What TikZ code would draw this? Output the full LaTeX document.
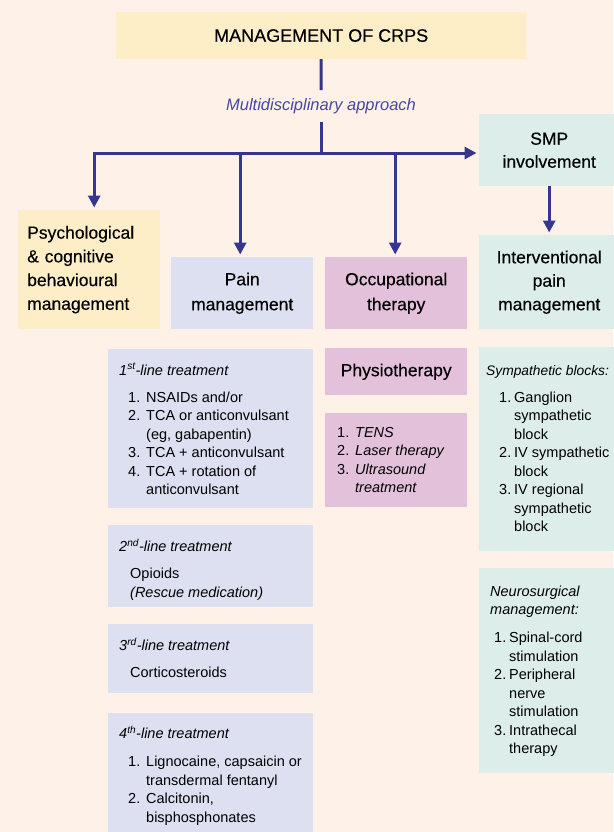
\documentclass[tikz,border=0pt]{standalone}
\usepackage{fontspec}
\setmainfont{Liberation Sans}
\newfontfamily\medf[FakeBold=0.35]{Liberation Sans}
\usetikzlibrary{arrows.meta,calc}
\definecolor{bgc}{HTML}{FEF1E7}
\definecolor{yel}{HTML}{FDEEC8}
\definecolor{lav}{HTML}{DCE0F1}
\definecolor{pnk}{HTML}{E4C1DB}
\definecolor{tea}{HTML}{DCEDEA}
\definecolor{arrc}{HTML}{36368C}
\definecolor{labc}{HTML}{48489C}
\newcommand{\fst}{\rule{0pt}{12pt}}
\newcommand{\nm}[1]{\makebox[18pt][l]{#1}}
\newcommand{\nr}[1]{\makebox[15pt][l]{#1}}
\begin{document}
\begin{tikzpicture}[x=1pt,y=-1pt,
  box/.style={rectangle,draw=none,inner sep=0pt,anchor=north west},
  head/.style={box,align=center,font=\fontsize{17.5}{24}\selectfont\medf},
  lst/.style={anchor=north west,inner sep=0pt,align=left,font=\fontsize{14.5}{18.5}\selectfont},
  conn/.style={draw=arrc,line width=3pt},
  arr/.style={conn,-{Triangle[length=12pt,width=12pt]},shorten >=2.5pt}]
\useasboundingbox (0,0) rectangle (613,832);
\fill[bgc] (0,0) rectangle (613,832);

% header boxes
\node[box,fill=yel,minimum width=410pt,minimum height=46.7pt,font=\fontsize{18}{22}\selectfont\medf] (title) at (116,12) {MANAGEMENT OF CRPS};
\node[box,fill=yel,minimum width=142pt,minimum height=119pt,inner xsep=9pt,text width=124pt,align=left,font=\fontsize{17.5}{23.7}\selectfont\medf] (psych) at (18,210) {Psychological\\\& cognitive\\behavioural\\management};
\node[head,fill=lav,minimum width=142pt,minimum height=72pt,font=\fontsize{17.5}{25}\selectfont\medf] (pain) at (171,257) {Pain\\management};
\node[head,fill=pnk,minimum width=142pt,minimum height=72pt,font=\fontsize{17.5}{25}\selectfont\medf] (occ) at (325,257) {Occupational\\therapy};
\node[head,fill=tea,minimum width=140pt,minimum height=72pt,font=\fontsize{17.5}{23}\selectfont\medf] (smp) at (479,114) {SMP\\involvement};
\node[head,fill=tea,minimum width=140pt,minimum height=94pt,font=\fontsize{17.5}{23.5}\selectfont\medf] (interv) at (479,235) {Interventional\\pain\\management};
\node[head,fill=pnk,minimum width=142pt,minimum height=47pt] (physio) at (325,348) {Physiotherapy};

% list boxes
\node[box,fill=lav,minimum width=205pt,minimum height=159pt] (b1) at (108,349) {};
\node[box,fill=lav,minimum width=205pt,minimum height=82pt] (b2) at (108,525) {};
\node[box,fill=lav,minimum width=205pt,minimum height=69pt] (b3) at (108,624) {};
\node[box,fill=lav,minimum width=205pt,minimum height=130pt] (b4) at (108,713) {};
\node[box,fill=pnk,minimum width=142pt,minimum height=94pt] (tens) at (325,413) {};
\node[box,fill=tea,minimum width=140pt,minimum height=204pt] (symp) at (479,347) {};
\node[box,fill=tea,minimum width=140pt,minimum height=205pt] (neuro) at (479,568) {};

% list texts
\node[lst] (t1) at (119,363) {\fst\textit{1\textsuperscript{st}-line treatment}\\[8.5pt]
\hspace*{9pt}\nm{1.}NSAIDs and/or\\
\hspace*{9pt}\nm{2.}TCA or anticonvulsant\\
\hspace*{27pt}(eg, gabapentin)\\
\hspace*{9pt}\nm{3.}TCA + anticonvulsant\\
\hspace*{9pt}\nm{4.}TCA + rotation of\\
\hspace*{27pt}anticonvulsant};
\node[lst] (t2) at (119,539) {\fst\textit{2\textsuperscript{nd}-line treatment}\\[8.5pt]
\hspace*{11pt}Opioids\\
\hspace*{11pt}\textit{(Rescue medication)}};
\node[lst] (t3) at (119,638) {\fst\textit{3\textsuperscript{rd}-line treatment}\\[8.5pt]
\hspace*{11pt}Corticosteroids};
\node[lst] (t4) at (119,726) {\fst\textit{4\textsuperscript{th}-line treatment}\\[9.5pt]
\hspace*{9pt}\nm{1.}Lignocaine, capsaicin or\\
\hspace*{27pt}transdermal fentanyl\\
\hspace*{9pt}\nm{2.}Calcitonin,\\
\hspace*{27pt}bisphosphonates};
\node[lst] (t5) at (337,425) {\fst\nm{1.}\textit{TENS}\\
\nm{2.}\textit{Laser therapy}\\
\nm{3.}\textit{Ultrasound}\\
\hspace*{18pt}\textit{treatment}};
\node[lst] (t6) at (486,363) {\fst{\fontsize{13.8}{18.5}\selectfont\textit{Sympathetic blocks:}}\\[8.5pt]
\hspace*{13pt}\nr{1.}Ganglion\\
\hspace*{28pt}sympathetic\\
\hspace*{28pt}block\\
\hspace*{13pt}\nr{2.}IV sympathetic\\
\hspace*{28pt}block\\
\hspace*{13pt}\nr{3.}IV regional\\
\hspace*{28pt}sympathetic\\
\hspace*{28pt}block};
\node[lst] (t7) at (490,584) {\fst\textit{Neurosurgical}\\
\textit{management:}\\[9.5pt]
\hspace*{4pt}\nr{1.}Spinal-cord\\
\hspace*{19pt}stimulation\\
\hspace*{4pt}\nr{2.}Peripheral\\
\hspace*{19pt}nerve\\
\hspace*{19pt}stimulation\\
\hspace*{4pt}\nr{3.}Intrathecal\\
\hspace*{19pt}therapy};

% connectors
\node[inner xsep=2pt,inner ysep=8pt,text=labc,font=\fontsize{16.5}{20}\selectfont\itshape] (mda) at (321,106) {Multidisciplinary approach};
\coordinate (J) at (321,153);
\coordinate (pa) at ($(psych.north)+(5,0)$);
\coordinate (pb) at ($(pain.north)+(-2,0)$);
\coordinate (pc) at ($(occ.north)+(-1,0)$);
\draw[conn] (title.south) -- (mda.north);
\draw[conn] (mda.south) -- (J);
\draw[arr] (J) -- (smp.west |- J);
\draw[arr] (J) -| (pa);
\draw[arr] (pb |- J) -- (pb);
\draw[arr] (pc |- J) -- (pc);
\draw[arr] (smp.south) -- (interv.north);
\end{tikzpicture}
\end{document}
